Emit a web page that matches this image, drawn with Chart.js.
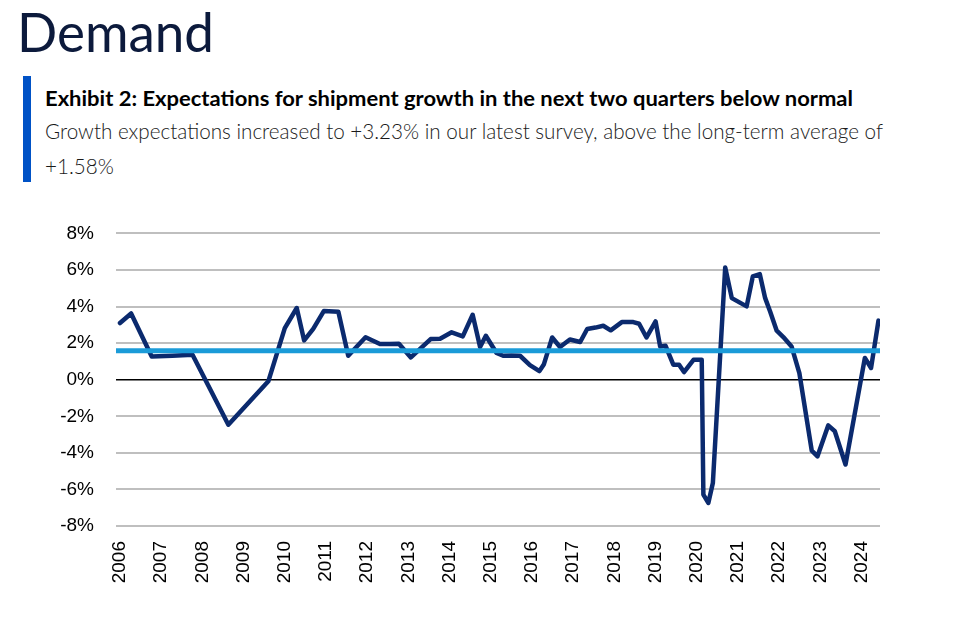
<!DOCTYPE html>
<html><head><meta charset="utf-8">
<script src="https://cdn.jsdelivr.net/npm/chart.js@4.4.1/dist/chart.umd.min.js"></script>
<style>
html,body{margin:0;padding:0;background:#fff;}
body{width:960px;height:629px;position:relative;overflow:hidden;font-family:Lato,'Open Sans',sans-serif;}
#demand{position:absolute;left:17px;top:4px;font-size:55px;line-height:55px;color:#0c1a3c;white-space:nowrap;transform-origin:0 0;}
#bar{position:absolute;left:23px;top:76px;width:8px;height:106px;background:#0052c6;}
#ex{position:absolute;left:45px;top:88px;font-size:20px;line-height:20px;font-weight:700;color:#000;white-space:nowrap;transform-origin:0 0;}
.sub{position:absolute;left:45px;font-size:22px;line-height:22px;font-weight:300;color:#1a1a1a;white-space:nowrap;transform-origin:0 0;}
#wrap{position:absolute;left:0;top:200px;width:960px;height:429px;}
</style></head>
<body>
<div id="demand">Demand</div>
<div id="bar"></div>
<div id="ex">Exhibit 2: Expectations for shipment growth in the next two quarters below normal</div>
<div class="sub" id="s1" style="top:120px">Growth expectations increased to +3.23% in our latest survey, above the long-term average of</div>
<div class="sub" id="s2" style="top:155px">+1.58%</div>
<div id="wrap"><canvas id="c" width="960" height="429"></canvas></div>
<script>
// Survey dates (decimal years) and expected shipment growth (%)
const surveyDates = [
  2006.00, 2006.27, 2006.77, 2007.27, 2007.76, 2008.63, 2009.60,
  2010.00, 2010.29, 2010.47, 2010.69, 2010.95, 2011.30, 2011.54, 2011.96,
  2012.31, 2012.54, 2012.77, 2013.06, 2013.54, 2013.77, 2014.05, 2014.32,
  2014.56, 2014.74, 2014.88, 2015.14, 2015.30, 2015.50, 2015.71, 2015.95,
  2016.18, 2016.29, 2016.49, 2016.68, 2016.92, 2017.17, 2017.34, 2017.54,
  2017.73, 2017.91, 2018.18, 2018.46, 2018.60, 2018.78, 2019.00, 2019.11,
  2019.24, 2019.43, 2019.57, 2019.69, 2019.92, 2020.12, 2020.16, 2020.28,
  2020.39, 2020.69, 2020.85, 2021.21, 2021.36, 2021.53, 2021.66, 2021.78,
  2021.94, 2022.10, 2022.30, 2022.49, 2022.79, 2022.93, 2023.19, 2023.35,
  2023.61, 2024.08, 2024.23, 2024.41
];
const shipmentGrowth = [
  3.10, 3.62, 1.27, 1.31, 1.36, -2.46, -0.09,
  2.82, 3.92, 2.15, 2.78, 3.76, 3.72, 1.31, 2.32,
  1.95, 1.95, 1.96, 1.22, 2.22, 2.24, 2.59, 2.37,
  3.55, 1.79, 2.40, 1.46, 1.31, 1.33, 1.31, 0.80,
  0.47, 0.85, 2.31, 1.79, 2.20, 2.06, 2.77, 2.85,
  2.95, 2.70, 3.15, 3.15, 3.06, 2.31, 3.19, 1.82,
  1.86, 0.82, 0.82, 0.42, 1.09, 1.09, -6.28, -6.74,
  -5.65, 6.14, 4.46, 4.01, 5.65, 5.77, 4.46, 3.73,
  2.68, 2.33, 1.82, 0.36, -3.88, -4.19, -2.50, -2.82,
  -4.64, 1.19, 0.64, 3.23
];
const longTermAverage = 1.58;
const yearTicks = [2006,2007,2008,2009,2010,2011,2012,2013,2014,2015,2016,2017,2018,2019,2020,2021,2022,2023,2024];
const yTicks = [-8,-6,-4,-2,0,2,4,6,8];
const xMin = 2005.903, xMax = 2024.447;

function fitWidth(id, target){
  const el = document.getElementById(id);
  const w = el.getBoundingClientRect().width;
  const k = target / w;
  el.style.transform = 'scaleX(' + k + ')';
  return k;
}
fitWidth('demand', 197);
fitWidth('ex', 808);
const k1 = fitWidth('s1', 838);
document.getElementById('s2').style.transform = 'scaleX(' + k1 + ')';

const tickFont = {family: "'Liberation Sans', Arial, sans-serif", size: 19};

new Chart(document.getElementById('c'), {
  type: 'line',
  data: {
    datasets: [
      {
        label: 'Long-term average',
        data: [{x: xMin, y: longTermAverage}, {x: xMax, y: longTermAverage}],
        borderColor: '#1b9bd8', borderWidth: 5, pointRadius: 0, tension: 0
      },
      {
        label: 'Shipment growth expectations',
        data: surveyDates.map((d, i) => ({x: d, y: shipmentGrowth[i]})),
        borderColor: '#0b2a6e', borderWidth: 4.5, pointRadius: 0, tension: 0,
        borderJoinStyle: 'round', borderCapStyle: 'round'
      }
    ]
  },
  options: {
    responsive: false, animation: false, devicePixelRatio: 1,
    layout: {padding: {left: 0, right: 80, top: 33, bottom: 0}},
    plugins: {legend: {display: false}, tooltip: {enabled: false}},
    scales: {
      x: {
        type: 'linear', min: xMin, max: xMax,
        grid: {display: false, drawTicks: false},
        border: {display: false},
        afterBuildTicks: s => { s.ticks = yearTicks.map(v => ({value: v})); },
        afterFit: s => { s.height = 103; },
        ticks: {
          autoSkip: false, minRotation: 90, maxRotation: 90, padding: 15,
          color: '#000', font: tickFont, callback: v => String(v)
        }
      },
      y: {
        min: -8, max: 8,
        afterBuildTicks: s => { s.ticks = yTicks.map(v => ({value: v})); },
        afterFit: s => { s.width = 116; },
        grid: {
          drawTicks: false,
          color: c => (c.tick && c.tick.value === 0) ? '#000' : '#bfbfbf',
          lineWidth: c => (c.tick && c.tick.value === 0) ? 1.5 : 2
        },
        border: {display: false},
        ticks: {padding: 22, color: '#000', font: tickFont, callback: v => v + '%'}
      }
    }
  }
});
</script>
</body></html>
